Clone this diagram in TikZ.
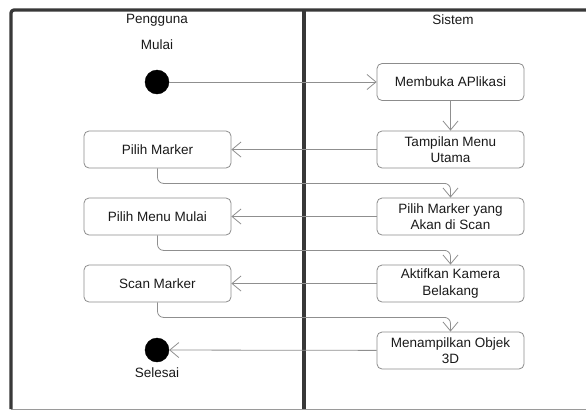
\documentclass[tikz,border=0pt]{standalone}
\usepackage{fontspec}
\setmainfont{Liberation Sans}
\usepackage{xcolor}
\definecolor{lanedark}{HTML}{383838}
\definecolor{lanegray}{HTML}{9A9A9A}
\definecolor{boxgray}{HTML}{8C8C8C}
\definecolor{flowgray}{HTML}{8F8F8F}
\usepackage{tikz}
\usetikzlibrary{arrows.meta,positioning}
\tikzset{
  every picture/.style={line join=round},
  lbl/.style={font=\fontsize{13.5}{16.5}\selectfont, text=black!90},
  act/.style={lbl, draw=boxgray, line width=0.8pt, rounded corners=5pt,
    minimum width=147pt, minimum height=37pt, align=center, inner sep=1pt},
  dot/.style={circle, fill=black, draw=black, minimum size=24pt, inner sep=0pt},
  lane/.style={lanedark, line width=3.3pt},
  flow/.style={flowgray, line width=0.8pt, rounded corners=6pt,
    -{Straight Barb[length=9pt, width=15pt, line width=0.8pt]}},
}

\begin{document}
\begin{tikzpicture}[x=1pt, y=-1pt]
\useasboundingbox (0,0) rectangle (586,410);
% swimlanes
\draw[lanegray, line width=1pt] (11,409) -- (600,409);
\draw[lane, rounded corners=3pt] (11,409) -- (11,10) -- (600,10);
\draw[lane] (304,10) -- (304,409);
\node[lbl] (pengguna) at (157,20) {Pengguna};
\node[lbl] (sistem) at (453,20) {Sistem};
% pengguna
\node[lbl] (mulailbl) at (157,45) {Mulai};
\node[dot] (mulai) at (157,82) {};
\node[act] (pilihmarker) at (157.5,149.5) {Pilih Marker};
\node[act] (pilihmenu) at (157.5,216.5) {Pilih Menu Mulai};
\node[act] (scan) at (157.5,283.5) {Scan Marker};
\node[dot] (selesai) at (157,350) {};
\node[lbl] (selesailbl) at (157,373) {Selesai};
% sistem
\node[act] (membuka) at (450.5,82) {Membuka APlikasi};
\node[act] (tampilan) at (450.5,149.5) {Tampilan Menu\\Utama};
\node[act] (pilihscan) at (450.5,216.5) {Pilih Marker yang\\Akan di Scan};
\node[act] (kamera) at (450.5,283.5) {Aktifkan Kamera\\Belakang};
\node[act] (objek) at (450.5,350.5) {Menampilkan Objek\\3D};
% alur
\draw[flow] (mulai) -- (membuka);
\draw[flow] (membuka) -- (tampilan);
\draw[flow] (tampilan) -- (pilihmarker);
\draw[flow] (pilihmarker.south) -- ++(0,15) -| (pilihscan.north);
\draw[flow] (pilihscan) -- (pilihmenu);
\draw[flow] (pilihmenu.south) -- ++(0,15) -| (kamera.north);
\draw[flow] (kamera) -- (scan);
\draw[flow] (scan.south) -- ++(0,15) -| (objek.north);
\draw[flow] (objek) -- (selesai);
\end{tikzpicture}
\end{document}
